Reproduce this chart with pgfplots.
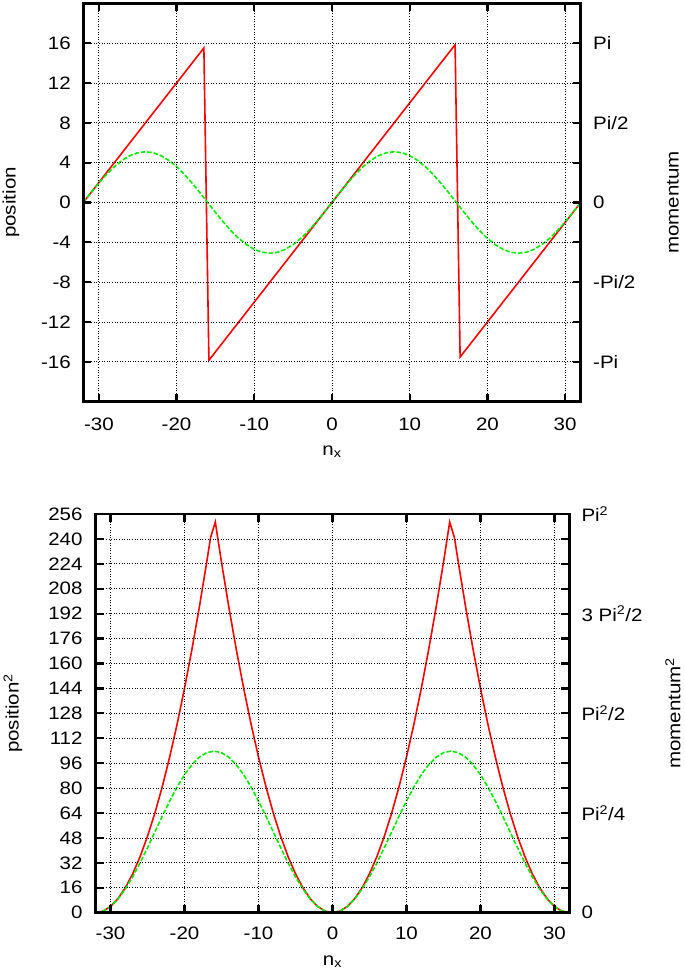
\documentclass[border=0pt]{standalone}
\usepackage{pgfplots}
\pgfplotsset{compat=1.18}
\usepackage{fontspec}
\setmainfont{Liberation Sans}[FakeStretch=1.14]
\definecolor{gred}{RGB}{255,0,0}
\definecolor{ggreen}{RGB}{0,235,0}
\tikzset{tk/.style={black, line width=2.2pt}}
\pgfplotsset{
  base/.style={scale only axis, anchor=south west, xmin=-32, xmax=32,
    axis line style={line width=2.6pt}, axis on top,
    major tick style={draw=black, line width=2.2pt},
    major tick length=8pt, tick align=inside,
    grid=major, grid style={black, line width=0.8pt, dash pattern=on 0.9pt off 1.7pt},
    xtick={-30,-20,...,30}, xticklabels={-30,-20,-10,0,10,20,30},
  },
  rightlab/.style={scale only axis, anchor=south west, xmin=-32, xmax=32,
    axis x line=none, axis y line*=right, y axis line style={draw=none},
    major tick length=0pt, ytick style={draw=none}},
  redline/.style={gred, line width=1.6pt},
  greenline/.style={ggreen, line width=1.6pt, dash pattern=on 4.5pt off 2pt},
}
\pgfplotstableread{
x y
-32 0
-16.485 15.515
-15.838 -15.838
15.838 15.838
16.485 -15.515
32 0
}\topred
\pgfplotstableread{
x y
-32 0
-31 0.994
-30 1.949
-29 2.830
-28 3.601
-27 4.235
-26 4.705
-25 4.995
-24 5.093
-23 4.995
-22 4.705
-21 4.235
-20 3.601
-19 2.830
-18 1.949
-17 0.994
-16 0
-15 -0.994
-14 -1.949
-13 -2.830
-12 -3.601
-11 -4.235
-10 -4.705
-9 -4.995
-8 -5.093
-7 -4.995
-6 -4.705
-5 -4.235
-4 -3.601
-3 -2.830
-2 -1.949
-1 -0.994
0 0
1 0.994
2 1.949
3 2.830
4 3.601
5 4.235
6 4.705
7 4.995
8 5.093
9 4.995
10 4.705
11 4.235
12 3.601
13 2.830
14 1.949
15 0.994
16 0
17 -0.994
18 -1.949
19 -2.830
20 -3.601
21 -4.235
22 -4.705
23 -4.995
24 -5.093
25 -4.995
26 -4.705
27 -4.235
28 -3.601
29 -2.830
30 -1.949
31 -0.994
32 0
}\topgreen
\pgfplotstableread{
x y
-32 0
-31 1
-30 4
-29 9
-28 16
-27 25
-26 36
-25 49
-24 64
-23 81
-22 100
-21 121
-20 144
-19 169
-18 196
-17 225
-16.485 240.72
-15.838 250.84
-15 225
-14 196
-13 169
-12 144
-11 121
-10 100
-9 81
-8 64
-7 49
-6 36
-5 25
-4 16
-3 9
-2 4
-1 1
0 0
1 1
2 4
3 9
4 16
5 25
6 36
7 49
8 64
9 81
10 100
11 121
12 144
13 169
14 196
15 225
15.838 250.84
16.485 240.72
17 225
18 196
19 169
20 144
21 121
22 100
23 81
24 64
25 49
26 36
27 25
28 16
29 9
30 4
31 1
32 0
}\botred
\pgfplotstableread{
x y
-32 0
-31 0.997
-30 3.949
-29 8.743
-28 15.194
-27 23.055
-26 32.024
-25 41.756
-24 51.876
-23 61.997
-22 71.728
-21 80.697
-20 88.558
-19 95.009
-18 99.803
-17 102.756
-16 103.753
-15 102.756
-14 99.803
-13 95.009
-12 88.558
-11 80.697
-10 71.728
-9 61.997
-8 51.876
-7 41.756
-6 32.024
-5 23.055
-4 15.194
-3 8.743
-2 3.949
-1 0.997
0 0
1 0.997
2 3.949
3 8.743
4 15.194
5 23.055
6 32.024
7 41.756
8 51.876
9 61.997
10 71.728
11 80.697
12 88.558
13 95.009
14 99.803
15 102.756
16 103.753
17 102.756
18 99.803
19 95.009
20 88.558
21 80.697
22 71.728
23 61.997
24 51.876
25 41.756
26 32.024
27 23.055
28 15.194
29 8.743
30 3.949
31 0.997
32 0
}\botgreen
\begin{document}
\fontsize{18}{21}\selectfont
\begin{tikzpicture}
\useasboundingbox (0,0) rectangle (685pt,974pt);
% ---------- top panel ----------
\begin{axis}[base, at={(83.3pt,572.3pt)}, width=497.4pt, height=398.4pt,
  ymin=-20, ymax=20,
  ytick={-16,-12,...,16}, yticklabels={-16,-12,-8,-4,0,4,8,12,16},
  xticklabel style={yshift=-10.3pt}, yticklabel style={xshift=-6.3pt},
  xlabel={n\textsubscript{x}}, ylabel={position},
  xlabel style={at={(axis description cs:0.5,-0.1338)}, anchor=base},
  ylabel style={at={(axis description cs:-0.1454,0.5)}, anchor=center}]
\addplot[redline] table {\topred};
\addplot[greenline] table {\topgreen};
\pgfplotsinvokeforeach{-30,-20,...,30}{
  \draw[tk] (axis cs:#1,-20) -- ([yshift=8pt]axis cs:#1,-20);
  \draw[tk] (axis cs:#1,20) -- ([yshift=-8pt]axis cs:#1,20);
}
\pgfplotsinvokeforeach{-16,-12,...,16}{
  \draw[tk] (axis cs:-32,#1) -- ([xshift=8pt]axis cs:-32,#1);
  \draw[tk] (axis cs:32,#1) -- ([xshift=-8pt]axis cs:32,#1);
}
\end{axis}
\begin{axis}[rightlab, at={(83.3pt,572.3pt)}, width=497.4pt, height=398.4pt,
  ymin=-20, ymax=20,
  ytick={-16,-8,0,8,16}, yticklabels={-Pi,-Pi/2,0,Pi/2,Pi},
  yticklabel style={xshift=6.3pt},
  ylabel={momentum},
  ylabel style={at={(axis description cs:1.1856,0.5)}, anchor=center}]
\addplot[draw=none] coordinates {(0,0)};
\end{axis}
% ---------- bottom panel ----------
\begin{axis}[base, at={(95.7pt,61.3pt)}, width=473.6pt, height=398.7pt,
  ymin=0, ymax=256,
  ytick={0,16,...,256},
  yticklabels={0,16,32,48,64,80,96,112,128,144,160,176,192,208,224,240,256},
  xticklabel style={yshift=-8pt}, yticklabel style={xshift=-7pt},
  xlabel={n\textsubscript{x}}, ylabel={position\textsuperscript{2}},
  xlabel style={at={(axis description cs:0.5,-0.1312)}, anchor=base},
  ylabel style={at={(axis description cs:-0.1746,0.5)}, anchor=center}]
\addplot[redline] table {\botred};
\addplot[greenline] table {\botgreen};
\pgfplotsinvokeforeach{-30,-20,...,30}{
  \draw[tk] (axis cs:#1,0) -- ([yshift=8pt]axis cs:#1,0);
  \draw[tk] (axis cs:#1,256) -- ([yshift=-8pt]axis cs:#1,256);
}
\pgfplotsinvokeforeach{16,32,...,240}{
  \draw[tk] (axis cs:-32,#1) -- ([xshift=8pt]axis cs:-32,#1);
  \draw[tk] (axis cs:32,#1) -- ([xshift=-8pt]axis cs:32,#1);
}
\end{axis}
\begin{axis}[rightlab, at={(95.7pt,61.3pt)}, width=473.6pt, height=398.7pt,
  ymin=0, ymax=256,
  ytick={0,64,128,192,256},
  yticklabels={0,Pi\textsuperscript{2}/4,Pi\textsuperscript{2}/2,3 Pi\textsuperscript{2}/2,Pi\textsuperscript{2}},
  yticklabel style={xshift=6pt},
  ylabel={momentum\textsuperscript{2}},
  ylabel style={at={(axis description cs:1.219,0.5)}, anchor=center}]
\addplot[draw=none] coordinates {(0,0)};
\end{axis}
\end{tikzpicture}
\end{document}
